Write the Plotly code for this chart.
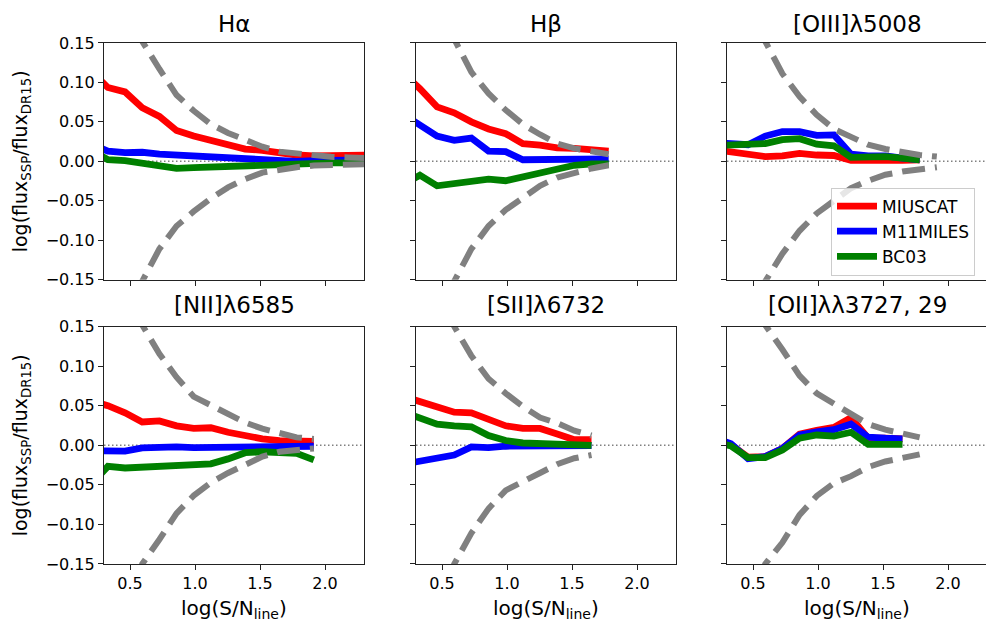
import plotly.graph_objects as go

# ---------------- data ----------------
X_BINS = [0.198, 0.33, 0.462, 0.594, 0.726, 0.858, 0.99, 1.122, 1.254, 1.386,
          1.518, 1.65, 1.782, 1.914, 2.046, 2.178, 2.31, 2.442]

PANEL_TITLES = ["Hα", "Hβ", "[OIII]λ5008", "[NII]λ6585", "[SII]λ6732", "[OII]λλ3727, 29"]
SERIES_NAMES = ["MIUSCAT", "M11MILES", "BC03"]

# H alpha
HA_MIUSCAT = [0.115, 0.0935, 0.088, 0.068, 0.057, 0.039, 0.032, 0.027, 0.021, 0.0156,
              0.014, 0.010, 0.008, 0.007, 0.007, 0.007, 0.0075, 0.008]
HA_M11 = [0.022, 0.013, 0.011, 0.0115, 0.009, 0.008, 0.006, 0.004, 0.003, 0.002,
          0.002, 0.001, 0.0, 0.001, 0.001, 0.0015, 0.002, 0.002]
HA_BC03 = [0.015, 0.002, 0.001, -0.003, -0.006, -0.009, -0.008, -0.007, -0.007, -0.006,
           -0.005, -0.004, -0.003, -0.002, -0.002, -0.002, -0.002, -0.002]
HA_ENV_UP = [0.21, 0.152, 0.117, 0.084, 0.064, 0.047, 0.036, 0.0275, 0.0185, 0.0123,
             0.0098, 0.007, 0.0057, 0.005, 0.004, 0.0035]
HA_ENV_LO = [-0.21, -0.152, -0.111, -0.082, -0.0635, -0.047, -0.033, -0.0225, -0.0143, -0.010,
             -0.0074, -0.0053, -0.004, -0.0033, -0.003, -0.003]

# H beta
HB_MIUSCAT = [0.112, 0.092, 0.069, 0.0615, 0.050, 0.041, 0.035, 0.0225, 0.0205, 0.017, 0.0164, 0.0156, 0.013]
HB_M11 = [0.06, 0.047, 0.032, 0.0267, 0.0295, 0.013, 0.0123, 0.002, 0.002, 0.0033, 0.004, 0.004, 0.003]
HB_BC03 = [-0.03, -0.0176, -0.031, -0.028, -0.0246, -0.0225, -0.0246, -0.0197, -0.0156, -0.0094, -0.005, -0.0033, -0.0033]
HB_ENV_UP = [0.21, 0.155, 0.113, 0.086, 0.065, 0.047, 0.034, 0.0225, 0.0164, 0.0123, 0.009]
HB_ENV_LO = [-0.21, -0.152, -0.111, -0.082, -0.0615, -0.046, -0.031, -0.0205, -0.0143, -0.009, -0.005]

# [OIII] 5008
O3_MIUSCAT = [0.015, 0.0123, 0.009, 0.006, 0.007, 0.010, 0.008, 0.0074, 0.0012, 0.0008, 0.0008, 0.0012, 0.002]
O3_M11 = [0.024, 0.0225, 0.021, 0.032, 0.0377, 0.0377, 0.033, 0.0336, 0.009, 0.007, 0.007, 0.004, 0.002]
O3_BC03 = [0.02, 0.0205, 0.0205, 0.0225, 0.0275, 0.0287, 0.0217, 0.0197, 0.005, 0.0057, 0.006, 0.004, 0.002]
O3_ENV_UP = [0.21, 0.152, 0.111, 0.082, 0.059, 0.041, 0.031, 0.021, 0.0156, 0.0115, 0.008, 0.006]
O3_ENV_LO = [-0.21, -0.152, -0.117, -0.088, -0.066, -0.049, -0.034, -0.0246, -0.017, -0.013, -0.010, -0.0074]

# [NII] 6585
N2_MIUSCAT = [0.056, 0.050, 0.041, 0.0295, 0.0308, 0.0246, 0.0213, 0.0221, 0.0164, 0.0115, 0.0082, 0.006, 0.006, 0.005]
N2_M11 = [-0.007, -0.007, -0.0074, -0.0033, -0.002, -0.002, -0.0029, -0.0025, -0.002, -0.0016, -0.0012, -0.0012, -0.0012, -0.0012]
N2_BC03 = [-0.05, -0.0267, -0.0287, -0.0275, -0.0267, -0.0258, -0.0258, -0.0234, -0.0172, -0.0094, -0.0082, -0.009, -0.0103, -0.0185]
N2_ENV_UP = [0.21, 0.152, 0.1156, 0.086, 0.0615, 0.051, 0.039, 0.0287, 0.021, 0.0156, 0.010, 0.008]
N2_ENV_LO = [-0.21, -0.15, -0.119, -0.086, -0.0636, -0.047, -0.035, -0.0246, -0.0143, -0.0082, -0.0053, -0.004]

# [SII] 6732
S2_MIUSCAT = [0.062, 0.055, 0.047, 0.0418, 0.041, 0.033, 0.0246, 0.0213, 0.0213, 0.0144, 0.007, 0.007]
S2_M11 = [-0.024, -0.0205, -0.0172, -0.0123, -0.002, -0.0029, -0.0012, -0.0012, -0.0012, -0.0008, -0.0008, -0.0004]
S2_BC03 = [0.042, 0.035, 0.0267, 0.0246, 0.0234, 0.0123, 0.006, 0.0029, 0.002, 0.0008, 0.0, 0.0]
S2_ENV_UP = [0.21, 0.15, 0.113, 0.084, 0.0656, 0.049, 0.035, 0.028, 0.0185, 0.0123]
S2_ENV_LO = [-0.21, -0.15, -0.111, -0.080, -0.057, -0.045, -0.035, -0.024, -0.0164, -0.0123]

# [OII] 3727,29
O2_MIUSCAT = [0.008, 0.001, -0.015, -0.0143, -0.004, 0.014, 0.019, 0.0225, 0.035, 0.009, 0.009, 0.008]
O2_M11 = [0.01, 0.002, -0.017, -0.0143, -0.004, 0.013, 0.017, 0.0197, 0.0267, 0.0103, 0.009, 0.0082]
O2_BC03 = [0.004, -0.0008, -0.0156, -0.0156, -0.006, 0.009, 0.013, 0.0115, 0.0164, 0.0012, 0.0012, 0.0012]
O2_ENV_UP = [0.21, 0.152, 0.121, 0.088, 0.0656, 0.0525, 0.039, 0.0267, 0.0197, 0.0144, 0.010]
O2_ENV_LO = [-0.21, -0.15, -0.123, -0.088, -0.064, -0.048, -0.039, -0.0275, -0.0205, -0.0156, -0.0115]

Y_TICKS = [-0.15, -0.10, -0.05, 0.0, 0.05, 0.10, 0.15]
Y_TICK_LABELS = ["\u22120.15", "\u22120.10", "\u22120.05", "0.00", "0.05", "0.10", "0.15"]
X_TICKS = [0.5, 1.0, 1.5, 2.0]
X_TICK_LABELS = ["0.5", "1.0", "1.5", "2.0"]

X_RANGE = [0.3, 2.3]
Y_RANGE = [-0.15, 0.15]

# ---------------- styling ----------------
COLORS = ["#ff0000", "#0000ff", "#008000"]
ENV_COLOR = "#808080"
FONT = "DejaVu Sans"
W, H = 986, 639

COL_PX = [(104, 364), (416, 676), (727, 987)]
ROW_PX = [(35, 279), (327.3, 572)]

panel_lines = [
    (HA_MIUSCAT, HA_M11, HA_BC03, HA_ENV_UP, HA_ENV_LO),
    (HB_MIUSCAT, HB_M11, HB_BC03, HB_ENV_UP, HB_ENV_LO),
    (O3_MIUSCAT, O3_M11, O3_BC03, O3_ENV_UP, O3_ENV_LO),
    (N2_MIUSCAT, N2_M11, N2_BC03, N2_ENV_UP, N2_ENV_LO),
    (S2_MIUSCAT, S2_M11, S2_BC03, S2_ENV_UP, S2_ENV_LO),
    (O2_MIUSCAT, O2_M11, O2_BC03, O2_ENV_UP, O2_ENV_LO),
]

fig = go.Figure()
layout = {}
annotations = []

for i, (mi, m11, bc, env_up, env_lo) in enumerate(panel_lines):
    row, col = divmod(i, 3)
    sfx = "" if i == 0 else str(i + 1)
    xa, ya = "x" + sfx, "y" + sfx

    x0, x1 = COL_PX[col]
    y0, y1 = ROW_PX[row]
    x1c = min(x1, W)
    px_per_unit = (x1 - x0) / (X_RANGE[1] - X_RANGE[0])
    xr = [X_RANGE[0], X_RANGE[0] + (x1c - x0) / px_per_unit]

    layout["xaxis" + sfx] = dict(
        domain=[x0 / W, x1c / W], range=xr, anchor=ya,
        showgrid=False, zeroline=False, showline=True, mirror=True,
        linecolor="#222", linewidth=1.2,
        ticks="outside", ticklen=5, tickwidth=1.2, tickcolor="#222",
        tickvals=X_TICKS, ticktext=X_TICK_LABELS,
        showticklabels=(row == 1),
        tickfont=dict(family=FONT, size=16, color="black"),
    )
    layout["yaxis" + sfx] = dict(
        domain=[1 - y1 / H, 1 - y0 / H], range=Y_RANGE, anchor=xa,
        showgrid=False, zeroline=False, showline=True, mirror=(col != 2),
        linecolor="#222", linewidth=1.2,
        ticks="outside", ticklen=5, tickwidth=1.2, tickcolor="#222",
        tickvals=Y_TICKS, ticktext=Y_TICK_LABELS,
        showticklabels=(col == 0),
        tickfont=dict(family=FONT, size=16, color="black"),
    )

    # zero reference line
    fig.add_trace(go.Scatter(
        x=[xr[0], X_RANGE[1]], y=[0, 0], xaxis=xa, yaxis=ya, mode="lines",
        line=dict(color=ENV_COLOR, width=1.5, dash="1.5px,2.5px"),
        showlegend=False, hoverinfo="skip"))

    for k, vals in enumerate((mi, m11, bc)):
        fig.add_trace(go.Scatter(
            x=X_BINS[:len(vals)], y=vals, xaxis=xa, yaxis=ya, mode="lines",
            name=SERIES_NAMES[k], line=dict(color=COLORS[k], width=6.8),
            showlegend=(i == 2)))

    for env in (env_up, env_lo):
        fig.add_trace(go.Scatter(
            x=X_BINS[2:2 + len(env)], y=env, xaxis=xa, yaxis=ya, mode="lines",
            line=dict(color=ENV_COLOR, width=6, dash="23px,10px"),
            showlegend=False, hoverinfo="skip"))

    cx = (x0 + x1) / 2 / W
    ty = 15 if row == 0 else 305
    annotations.append(dict(
        text=PANEL_TITLES[i], x=cx, y=1 - ty / H, xref="paper", yref="paper",
        xanchor="center", yanchor="middle", showarrow=False,
        font=dict(family=FONT, size=23, color="black")))
    if row == 1:
        annotations.append(dict(
            text="log(S/N<sub>line</sub>)", x=cx, y=1 - 618 / H,
            xref="paper", yref="paper", xanchor="center", yanchor="middle",
            showarrow=False, font=dict(family=FONT, size=20, color="black")))
    if col == 0:
        annotations.append(dict(
            text="log(flux<sub>SSP</sub>/flux<sub>DR15</sub>)", x=21 / W,
            y=1 - (y0 + y1) / 2 / H, xref="paper", yref="paper",
            xanchor="center", yanchor="middle", textangle=-90,
            showarrow=False, font=dict(family=FONT, size=19, color="black")))

fig.update_layout(
    **layout,
    width=W, height=H,
    margin=dict(l=0, r=0, t=0, b=0),
    paper_bgcolor="white", plot_bgcolor="white",
    font=dict(family=FONT, color="black"),
    annotations=annotations,
    showlegend=True,
    legend=dict(
        x=831 / W, y=1 - 184 / H, xanchor="left", yanchor="top",
        bgcolor="rgba(255,255,255,0.8)", bordercolor="#cccccc", borderwidth=1,
        font=dict(family=FONT, size=17, color="black"),
        itemwidth=40, tracegroupgap=0,
    ),
)

fig.write_html(
    "out.html",
    config={"displayModeBar": False},
    post_script="document.body.style.margin='0';document.body.style.padding='0';"
                "document.body.style.overflow='hidden';",
)
